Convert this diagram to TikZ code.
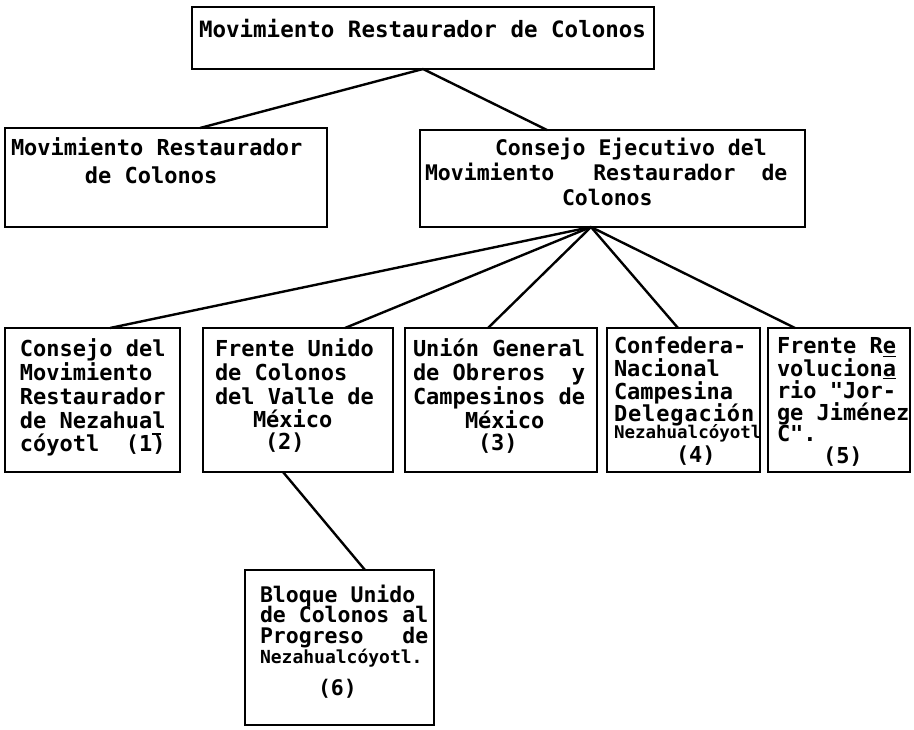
\documentclass[tikz,border=0pt]{standalone}
\usepackage{fontspec}
\newfontfamily\tw{DejaVu Sans Mono}
\newcommand\cellbox[3]{\parbox[t]{#1}{\raggedright\leftskip=#2\relax\lineskiplimit=-\maxdimen #3}}
\newcommand\barover[1]{\rlap{\raisebox{17pt}{\rule{9pt}{1.6pt}}}#1}
\newcommand\barunder[1]{$\underline{\hbox{#1}}$}
\tikzset{%
  orgbox/.style={
    draw,
    line width=1.5pt,
    inner sep=0pt,
    outer sep=0pt,
    anchor=base west,
    font={\tw\bfseries\fontsize{22}{24}\selectfont}
  },
  rowbox/.style={
    orgbox,
    text height=29pt,
    text depth=115pt
  },
  tightbox/.style={
    orgbox,
    text height=26pt,
    text depth=118pt
  },
}

\begin{document}
\begin{tikzpicture}[x=1pt,y=-1pt]
    \tikzstyle{link}=[line width=2.4pt]
    \useasboundingbox (0,0) rectangle (914,730);
    \node[orgbox,text height=31pt,text depth=31pt](mrc0) at (192,38){\cellbox{462pt}{7pt}{\fontsize{22.5}{24}\selectfont Movimiento Restaurador de Colonos}};
    \node[orgbox,text height=28pt,text depth=71pt](mrc) at (5,156){\cellbox{322pt}{6pt}{Movimiento Restaurador\\[4pt]\hspace*{74pt}de Colonos}};
    \node[orgbox,text height=26pt,text depth=71pt](cejec) at (420,156){\cellbox{385pt}{5pt}{\fontsize{21.5}{24}\selectfont\hspace*{70pt}Consejo Ejecutivo del\\[1pt] Movimiento~~~Restaurador~~de\\[1pt]\hspace*{137pt}Colonos}};
    \node[rowbox](cmrn) at (5,357){\cellbox{175pt}{15pt}{Consejo del\\ Movimiento\\ Restaurador\\ de Nezahual\\[-1pt] cóyotl~~(1\barover{)}}};
    \node[rowbox](fuc) at (203,357){\cellbox{190pt}{12pt}{Frente Unido\\ de Colonos\\ del Valle de\\[-1pt] \hspace*{38pt}México\\[-2pt] \hspace*{50pt}(2)}};
    \node[rowbox](ugoc) at (405,357){\cellbox{192pt}{8pt}{Unión General\\ de Obreros~~y\\ Campesinos de\\ \hspace*{52pt}México\\[-2pt] \hspace*{65pt}(3)}};
    \node[tightbox](cnc) at (607,354){\cellbox{153pt}{7pt}{Confedera-\\[-1.5pt] Nacional\\[-1pt] Campesina\\[-2pt] {\addfontfeature{LetterSpace=4}Delegación}\\[-6.5pt] {\fontsize{17.5}{24}\selectfont Nezahualcóyotl}\\ \hspace*{62pt}(4)}};
    \node[tightbox](fru) at (768,354){\cellbox{142pt}{9pt}{Frente R\barunder{e}\\[-1.5pt] volucion\barunder{a}\\[-1.5pt] rio "Jor-\\[-2pt] ge Jiménez\\[-3pt] C".\\[-2pt] \hspace*{46pt}(5)}};
    \node[orgbox,text height=32pt,text depth=123pt](bucp) at (245,602){\cellbox{189pt}{15pt}{\fontsize{21.5}{24}\selectfont Bloque Unido\\[-3.5pt] de Colonos al\\[-3.5pt] Progreso~~~de\\[-4pt] {\fontsize{18}{24}\selectfont Nezahualcóyotl.}\\[8pt] \hspace*{58pt}(6)}};
    \coordinate (hub) at ([xshift=-21.5pt]cejec.south);
    \draw[link] (mrc0.south) -- ([xshift=34pt]mrc.north);
    \draw[link] (mrc0.south) -- ([xshift=-65.5pt]cejec.north);
    \draw[link] (hub) -- ([xshift=17.5pt]cmrn.north);
    \draw[link] (hub) -- ([xshift=47pt]fuc.north);
    \draw[link] (hub) -- ([xshift=-13pt]ugoc.north);
    \draw[link] (hub) -- ([xshift=-5.5pt]cnc.north);
    \draw[link] (hub) -- ([xshift=-44pt]fru.north);
    \draw[link] ([xshift=-15pt]fuc.south) -- ([xshift=25.5pt]bucp.north);
\end{tikzpicture}
\end{document}
